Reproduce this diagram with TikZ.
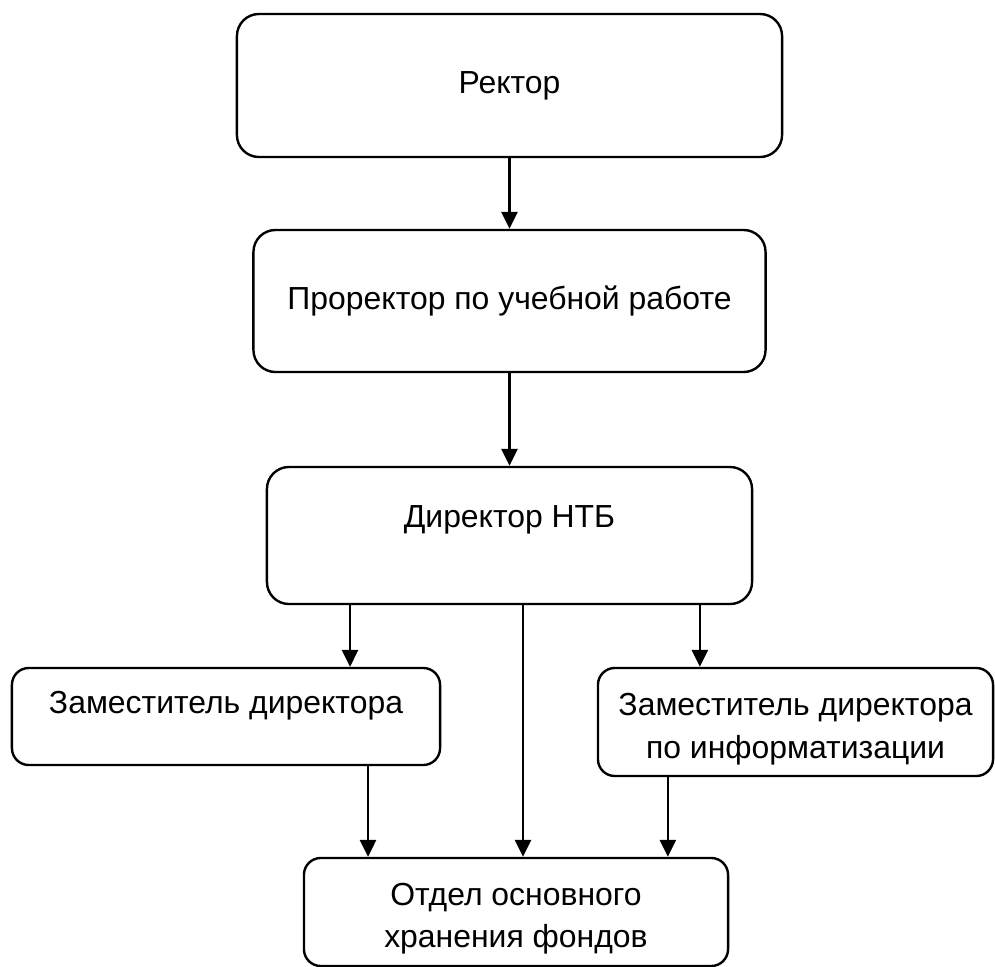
\documentclass[tikz,border=0pt]{standalone}
\usepackage{fontspec}
\setmainfont{Liberation Sans}
\usepackage{xcolor}
\definecolor{lineDark}{HTML}{000000}
\usepackage{tikz}
\usetikzlibrary{positioning,calc,arrows.meta}
\tikzset{
  orgBox/.style={
    rectangle,
    rounded corners=0.55cm,
    draw=lineDark,
    line width=1.7pt,
    inner sep=0pt,
    align=center,
    font=\fontsize{22.7}{30}\selectfont
 },
  smallBox/.style={
    orgBox,
    rounded corners=0.42cm
 },
  arrowLine/.style={
    -{Triangle[length=0.42cm,width=0.4cm]},
    line width=1.7pt,
    color=lineDark
 }
}
\begin{document}
\begin{tikzpicture}[x=0.025cm,y=-0.025cm]
            \useasboundingbox (0,0) rectangle (995,967);
            % Rector
            \node[orgBox, minimum width=13.625cm, minimum height=3.575cm] (rector) at (509.5,85.5) {Ректор};
            % Vice-rector
            \node[orgBox, minimum width=12.8cm, minimum height=3.55cm] (prorector) at (509.5,301) {Проректор по учебной работе};
            % Library director
            \node[orgBox, minimum width=12.125cm, minimum height=3.425cm] (director) at (509.5,535.5) {Директор НТБ\\[-3pt]\mbox{}};

            \draw[arrowLine] (rector) -- (prorector);
            \draw[arrowLine] (prorector) -- (director);

            % Deputies
            \node[smallBox, minimum width=10.7cm, minimum height=2.425cm] (zamLeft) at (226,716.5) {Заместитель директора\\[-10pt]\mbox{}};
            \node[smallBox, minimum width=9.875cm, minimum height=2.7cm] (zamRight) at (795.5,722) {\rule{0pt}{26pt}Заместитель директора\\по информатизации};
            % Storage department
            \node[smallBox, minimum width=10.6cm, minimum height=2.7cm] (otdel) at (516,912) {\rule{0pt}{25pt}Отдел основного\\хранения фондов};

            \draw[arrowLine] ([xshift=3.1cm]zamLeft.north |- director.south) -- ([xshift=3.1cm]zamLeft.north);
            \draw[arrowLine] ([xshift=-2.39cm]zamRight.north |- director.south) -- ([xshift=-2.39cm]zamRight.north);
            \draw[arrowLine] ([xshift=0.175cm]otdel.north |- director.south) -- ([xshift=0.175cm]otdel.north);

            \draw[arrowLine] ([xshift=3.55cm]zamLeft.south) -- ([xshift=3.55cm]zamLeft.south |- otdel.north);
            \draw[arrowLine] ([xshift=-3.19cm]zamRight.south) -- ([xshift=-3.19cm]zamRight.south |- otdel.north);
        \end{tikzpicture}
\end{document}
